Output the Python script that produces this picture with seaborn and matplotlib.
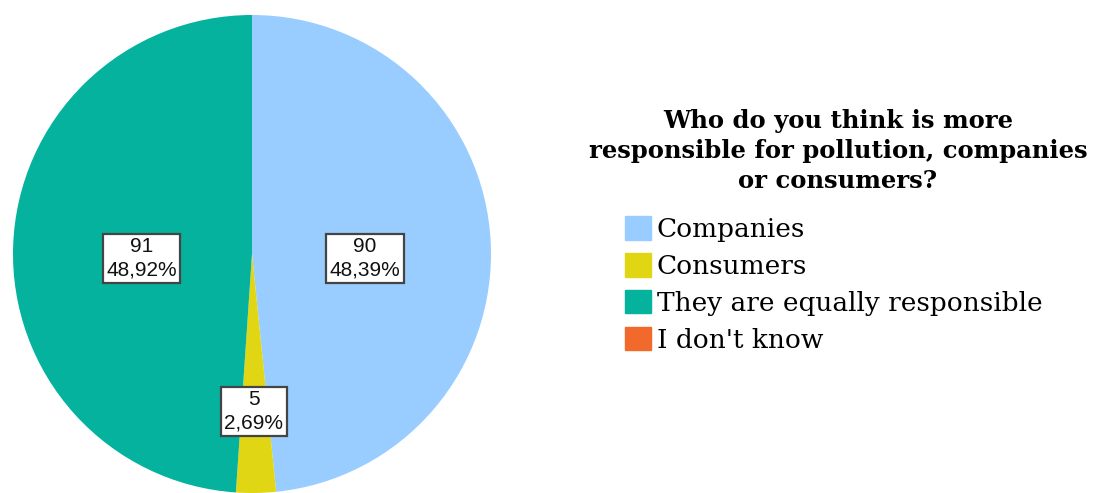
import matplotlib
matplotlib.use("Agg")
import matplotlib.pyplot as plt
import matplotlib.patches as mpatches
import seaborn as sns

# Survey answers
categories = ["Companies", "Consumers", "They are equally responsible", "I don't know"]
counts = [90, 5, 91, 0]
percent_labels = ["48,39%", "2,69%", "48,92%", "0,00%"]
colors = ["#99CCFF", "#E1D614", "#04B29E", "#F26A2B"]
legend_title = "Who do you think is more\nresponsible for pollution, companies\nor consumers?"

sns.set_theme(style="white")

W, H = 1096, 493
fig = plt.figure(figsize=(W / 100, H / 100), dpi=100)
ax = fig.add_axes([0, 0, 548 / W, 1])

center = (252, H - 254)
radius = 239

shown = [(c, v, p, col) for c, v, p, col in zip(categories, counts, percent_labels, colors) if v > 0]
wedges, _ = ax.pie(
    [s[1] for s in shown],
    colors=[s[3] for s in shown],
    startangle=90,
    counterclock=False,
    center=center,
    radius=radius,
    frame=True,
    wedgeprops=dict(linewidth=0),
)
ax.set_xlim(0, 548)
ax.set_ylim(0, H)
ax.set_aspect("equal")
ax.axis("off")

# value boxes, offsets from the pie centre in units of the radius
label_pos = {
    "Companies": (0.473, -0.019),
    "Consumers": (0.007, -0.658),
    "They are equally responsible": (-0.462, -0.019),
}
for cat, v, p, col in shown:
    dx, dy = label_pos[cat]
    ax.text(center[0] + dx * radius, center[1] + dy * radius, f"{v}\n{p}",
            ha="center", va="center", fontsize=15,
            family="Liberation Sans", color="#111111", linespacing=1.28,
            bbox=dict(boxstyle="square,pad=0.17", facecolor="white",
                      edgecolor="#444444", linewidth=1.6))

# legend title drawn as its own centred text block
fig.text(838 / W, 1 - 151 / H, legend_title, ha="center", va="center",
         family="DejaVu Serif", size=17.5, weight="bold", color="black",
         linespacing=1.3, multialignment="center")

handles = [mpatches.Patch(facecolor=c, edgecolor=c, label=l) for c, l in zip(colors, categories)]
leg = fig.legend(
    handles=handles,
    loc="upper left",
    bbox_to_anchor=(625 / W, 1 - 216 / H),
    frameon=False,
    prop=dict(family="DejaVu Serif", size=19, weight="light"),
    handlelength=1.0,
    handleheight=1.0,
    handletextpad=0.2,
    labelspacing=0.42,
    borderpad=0,
    borderaxespad=0,
)
for t in leg.get_texts():
    t.set_color("black")

fig.savefig("out.png", dpi=100)
